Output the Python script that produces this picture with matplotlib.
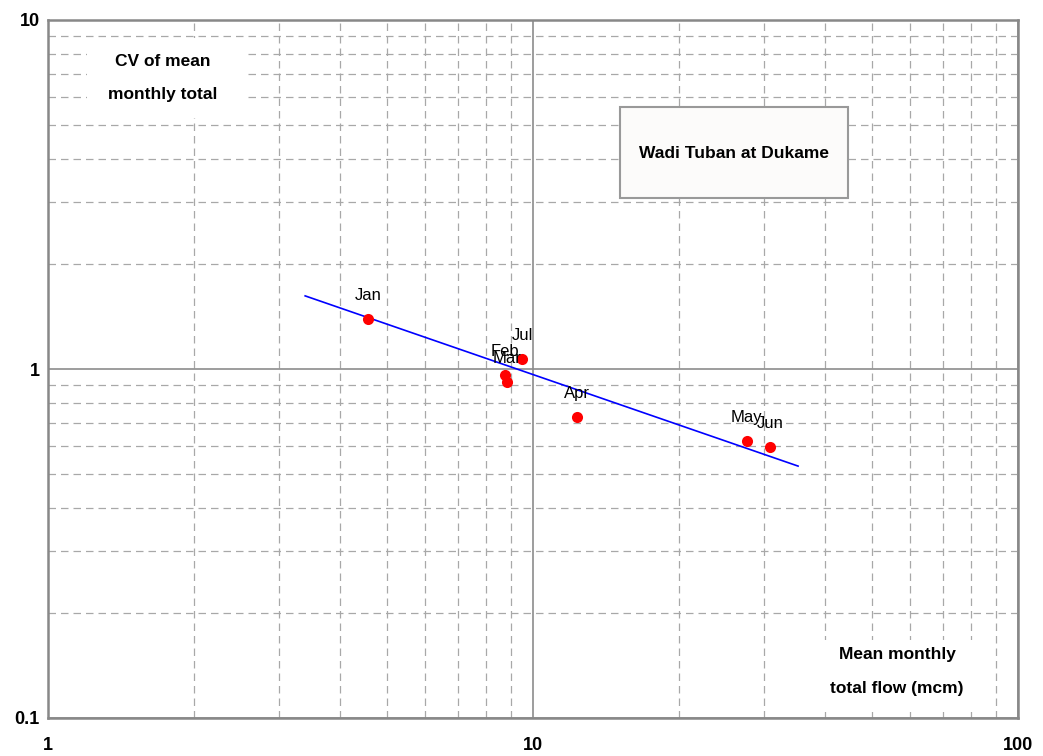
import matplotlib.pyplot as plt
from matplotlib.ticker import FixedLocator, NullFormatter

# data
months = ["Jan", "Feb", "Mar", "Apr", "May", "Jun", "Jul"]
mean_flow = [4.57, 8.76, 8.84, 12.3, 27.6, 30.8, 9.49]
cv = [1.39, 0.96, 0.918, 0.729, 0.622, 0.598, 1.068]
trend_x = [3.39, 35.2]
trend_y = [1.62, 0.527]

plt.rcParams["font.family"] = ["Liberation Sans", "DejaVu Sans"]

W, H = 1043, 756


def fig_rect(x0, y0, x1, y1, **kw):
    # rectangle given in pixel coords from the top-left corner
    fig.patches.append(plt.Rectangle((x0 / W, 1 - y1 / H), (x1 - x0) / W, (y1 - y0) / H,
                                     transform=fig.transFigure, **kw))


fig = plt.figure(figsize=(10.43, 7.56), dpi=100)
ax = fig.add_axes([48 / W, 38 / H, 970 / W, 698 / H])
ax.set_xscale("log")
ax.set_yscale("log")
ax.set_xlim(1, 100)
ax.set_ylim(0.1, 10)

# grid: solid majors at 10 / 1, dashed minors
ax.xaxis.set_minor_locator(FixedLocator([k * d for d in (1, 10) for k in range(2, 10)]))
ax.yaxis.set_minor_locator(FixedLocator([k * d for d in (0.1, 1) for k in range(2, 10)]))
ax.xaxis.set_minor_formatter(NullFormatter())
ax.yaxis.set_minor_formatter(NullFormatter())
ax.grid(which="minor", color="#a8a8a8", linestyle=(0, (6, 4)), linewidth=0.9)
ax.grid(which="major", color="#8c8c8c", linestyle="-", linewidth=1.2)
ax.set_axisbelow(True)
for s in ax.spines.values():
    s.set_color("#888888")
    s.set_linewidth(1.8)

ax.tick_params(which="both", length=0)
ax.set_xticks([1, 10, 100])
ax.set_xticklabels(["1", "10", "100"], fontsize=13, fontweight="bold")
ax.set_yticks([0.1, 1, 10])
ax.set_yticklabels(["0.1", "1", "10"], fontsize=13, fontweight="bold")
ax.tick_params(axis="x", pad=14)
ax.tick_params(axis="y", pad=6)

ax.plot(trend_x, trend_y, color="#0000ff", linewidth=1.2, zorder=3)
ax.plot(mean_flow, cv, "o", color="#ff0000", markersize=8, markeredgewidth=0, zorder=4)
for m, x, y in zip(months, mean_flow, cv):
    ax.annotate(m, (x, y), xytext=(0, 17), textcoords="offset points",
                ha="center", va="center", fontsize=12, zorder=5)

# axis captions sit on white patches that hide the grid
fig_rect(87, 38, 245, 118, facecolor="white", edgecolor="none", zorder=1)
fig_rect(815, 640, 985, 712, facecolor="white", edgecolor="none", zorder=1)
fig.text(163 / W, 1 - 62 / H, "CV of mean", ha="center", va="center",
         fontsize=12.5, fontweight="bold")
fig.text(163 / W, 1 - 95 / H, "monthly total", ha="center", va="center",
         fontsize=12.5, fontweight="bold")
fig.text(897 / W, 1 - 655 / H, "Mean monthly", ha="center", va="center",
         fontsize=12.5, fontweight="bold")
fig.text(897 / W, 1 - 688 / H, "total flow (mcm)", ha="center", va="center",
         fontsize=12.5, fontweight="bold")

fig_rect(620, 107, 848, 198, facecolor="#fcfbfa", edgecolor="#999999",
         linewidth=1.5, zorder=2)
fig.text(734 / W, 1 - 153 / H, "Wadi Tuban at Dukame", ha="center", va="center",
         fontsize=12.5, fontweight="bold", zorder=3)

fig.savefig("out.png", dpi=100)
